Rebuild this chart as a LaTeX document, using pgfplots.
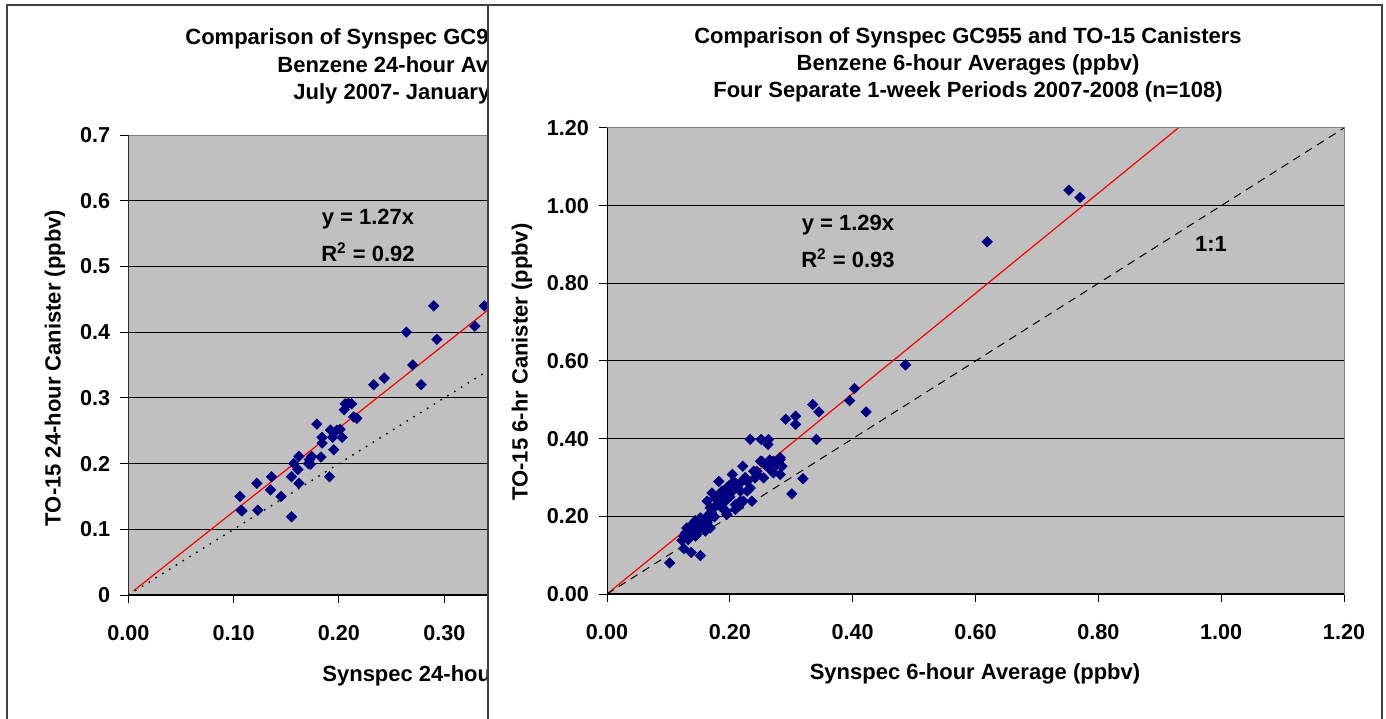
\documentclass[border=0pt]{standalone}
\usepackage{fontspec}
\setmainfont{Liberation Sans}
\usepackage{pgfplots}
\pgfplotsset{compat=1.18}
\usepackage{pgfplotstable}

\definecolor{plotgray}{HTML}{C0C0C0}
\definecolor{navy}{HTML}{000080}
\definecolor{framegray}{HTML}{404040}

% pixel position in the 1386x718 reference -> picture coordinate
\def\px#1#2{({(#1)*0.5pt},{(718-(#2))*0.5pt})}

\newcommand{\lbl}{\bfseries\fontsize{11}{13}\selectfont}

\pgfplotsset{
  excel/.style={
    scale only axis,
    axis background/.style={fill=plotgray},
    axis line style={draw=gray, line width=0.5pt},
    tick align=outside,
    major tick length=4pt,
    tick style={black, line width=0.5pt},
    xtick pos=left, ytick pos=left,
    ymajorgrids,
    grid style={black, line width=0.5pt},
    ticklabel style={font=\bfseries\fontsize{10.8}{13}\selectfont},
    /pgf/number format/assume math mode=true,
    xticklabel style={anchor=center, yshift=-15pt},
    yticklabel style={anchor=east, xshift=-1.5pt},
  },
  pts/.style={only marks, mark=square*, mark size=1.8pt,
    mark options={rotate=45, fill=navy, draw=navy}},
}

% 24-hour averages (left chart), Synspec vs canister, ppbv
\pgfplotstableread{
x y
0.106 0.150
0.107 0.129
0.108 0.128
0.122 0.170
0.123 0.129
0.135 0.160
0.136 0.180
0.145 0.150
0.155 0.119
0.155 0.180
0.157 0.200
0.161 0.191
0.162 0.211
0.162 0.170
0.171 0.200
0.172 0.206
0.174 0.211
0.173 0.199
0.179 0.260
0.183 0.210
0.184 0.240
0.184 0.231
0.191 0.180
0.192 0.251
0.194 0.240
0.195 0.221
0.198 0.251
0.201 0.252
0.203 0.240
0.205 0.282
0.206 0.291
0.209 0.292
0.212 0.291
0.214 0.271
0.217 0.269
0.233 0.320
0.243 0.330
0.264 0.400
0.270 0.350
0.278 0.320
0.290 0.440
0.293 0.389
0.329 0.409
0.338 0.440
}\dayavg

% 6-hour averages (right chart), n=108
\pgfplotstableread{
x y
0.102 0.080
0.125 0.117
0.137 0.107
0.152 0.099
0.122 0.138
0.130 0.170
0.144 0.189
0.128 0.157
0.135 0.149
0.141 0.162
0.146 0.153
0.152 0.170
0.157 0.179
0.163 0.183
0.149 0.179
0.138 0.174
0.168 0.196
0.160 0.162
0.166 0.205
0.174 0.222
0.163 0.239
0.171 0.260
0.182 0.290
0.176 0.248
0.179 0.230
0.187 0.265
0.190 0.248
0.194 0.213
0.195 0.205
0.198 0.278
0.204 0.308
0.206 0.290
0.212 0.282
0.209 0.230
0.214 0.226
0.217 0.265
0.221 0.329
0.222 0.239
0.228 0.290
0.233 0.273
0.236 0.239
0.239 0.316
0.241 0.299
0.244 0.308
0.250 0.342
0.255 0.299
0.258 0.333
0.263 0.325
0.271 0.342
0.277 0.333
0.282 0.351
0.285 0.329
0.282 0.308
0.233 0.398
0.251 0.398
0.263 0.398
0.262 0.385
0.291 0.450
0.307 0.458
0.307 0.437
0.319 0.297
0.301 0.258
0.335 0.488
0.345 0.469
0.341 0.398
0.395 0.498
0.403 0.529
0.422 0.469
0.486 0.590
0.619 0.907
0.752 1.040
0.770 1.021
0.252 0.342
0.282 0.346
0.271 0.312
0.244 0.316
0.217 0.286
0.195 0.273
0.212 0.273
0.228 0.265
0.187 0.260
0.179 0.243
0.217 0.239
0.201 0.260
0.168 0.222
0.187 0.222
0.209 0.218
0.152 0.196
0.141 0.183
0.149 0.166
0.168 0.170
0.136 0.153
0.125 0.149
0.144 0.149
0.132 0.140
0.139 0.163
0.147 0.172
0.155 0.186
0.158 0.168
0.161 0.193
0.170 0.210
0.175 0.199
0.183 0.235
0.192 0.238
0.200 0.250
0.225 0.300
0.265 0.345
}\sixavg

\begin{document}
\begin{tikzpicture}
\useasboundingbox \px{0}{0} rectangle \px{1386}{718};
\clip \px{0}{0} rectangle \px{1386}{718};
\fill[white] \px{0}{0} rectangle \px{1386}{718};

% ---- left chart (partly hidden behind the right one)
\draw[framegray, line width=0.7pt] \px{7}{730} -- \px{7}{5} -- \px{488}{5};

\begin{axis}[excel,
  at={(64.15pt,61.5pt)}, anchor=south west,
  width=316pt, height=230pt,
  xmin=0, xmax=0.6, ymin=0, ymax=0.7,
  xtick={0,0.1,0.2,0.3}, ytick={0,0.1,...,0.7},
  xticklabel style={/pgf/number format/.cd, fixed, fixed zerofill, precision=2},
  yticklabel style={/pgf/number format/.cd, fixed, precision=1},
]
\addplot[red, line width=0.6pt] coordinates {(0.005,0.0064) (0.6,0.762)};
\addplot[black, line width=0.7pt, dash pattern=on 0.8pt off 3.2pt] coordinates {(0,0) (0.6,0.6)};
\addplot[pts] table {\dayavg};
\draw[black, line width=0.6pt] (axis cs:0,0) -- (axis cs:0,0.7);
\draw[black, line width=0.6pt] (axis cs:0,0) -- (axis cs:0.6,0);
\end{axis}

\begin{scope}[every node/.style={inner sep=0pt, font=\lbl}]
\node[anchor=base west] at \px{185}{45} {Comparison of Synspec GC955 and TO-15 Canisters};
\node[anchor=base west] at \px{277}{73} {Benzene 24-hour Averages (ppbv)};
\node[anchor=base west] at \px{293}{100} {July 2007- January 2008 (n=52)};
\node[anchor=base west] at \px{322}{681} {Synspec 24-hour Average (ppbv)};
\end{scope}
\node[font=\lbl] at \px{368}{219} {y = 1.27x};
\node[font=\lbl] at \px{368}{252} {R\textsuperscript{2} = 0.92};
\node[font=\lbl, rotate=90] at \px{55}{368} {TO-15 24-hour Canister (ppbv)};

% ---- right chart (on top)
\fill[white] \px{488}{5} rectangle \px{1382}{730};
\draw[framegray, line width=0.7pt] \px{488}{730} -- \px{488}{5} -- \px{1382}{5} -- \px{1382}{730};

\begin{axis}[excel,
  at={(303.5pt,62pt)}, anchor=south west,
  width=368.5pt, height=233pt,
  xmin=0, xmax=1.2, ymin=0, ymax=1.2,
  xtick={0,0.2,...,1.2}, ytick={0,0.2,...,1.2},
  xticklabel style={/pgf/number format/.cd, fixed, fixed zerofill, precision=2},
  yticklabel style={/pgf/number format/.cd, fixed, fixed zerofill, precision=2},
]
\addplot[red, line width=0.6pt] coordinates {(0,0) (0.93,1.2)};
\addplot[black, line width=0.5pt, dash pattern=on 4pt off 3pt] coordinates {(0,0) (1.2,1.2)};
\addplot[pts] table {\sixavg};
\draw[black, line width=0.6pt] (axis cs:0,0) -- (axis cs:0,1.2);
\draw[black, line width=0.6pt] (axis cs:0,0) -- (axis cs:1.2,0);
\end{axis}

\node[font=\lbl] at \px{968}{38} {Comparison of Synspec GC955 and TO-15 Canisters};
\node[font=\lbl] at \px{968}{65} {Benzene 6-hour Averages (ppbv)};
\node[font=\lbl] at \px{968}{92} {Four Separate 1-week Periods 2007-2008 (n=108)};
\node[font=\lbl] at \px{848}{225} {y = 1.29x};
\node[font=\lbl] at \px{848}{258} {R\textsuperscript{2} = 0.93};
\node[font=\lbl] at \px{1211}{244} {1:1};
\node[font=\lbl, rotate=90] at \px{522}{362} {TO-15 6-hr Canister (ppbv)};
\node[font=\lbl] at \px{975}{674} {Synspec 6-hour Average (ppbv)};
\end{tikzpicture}
\end{document}
